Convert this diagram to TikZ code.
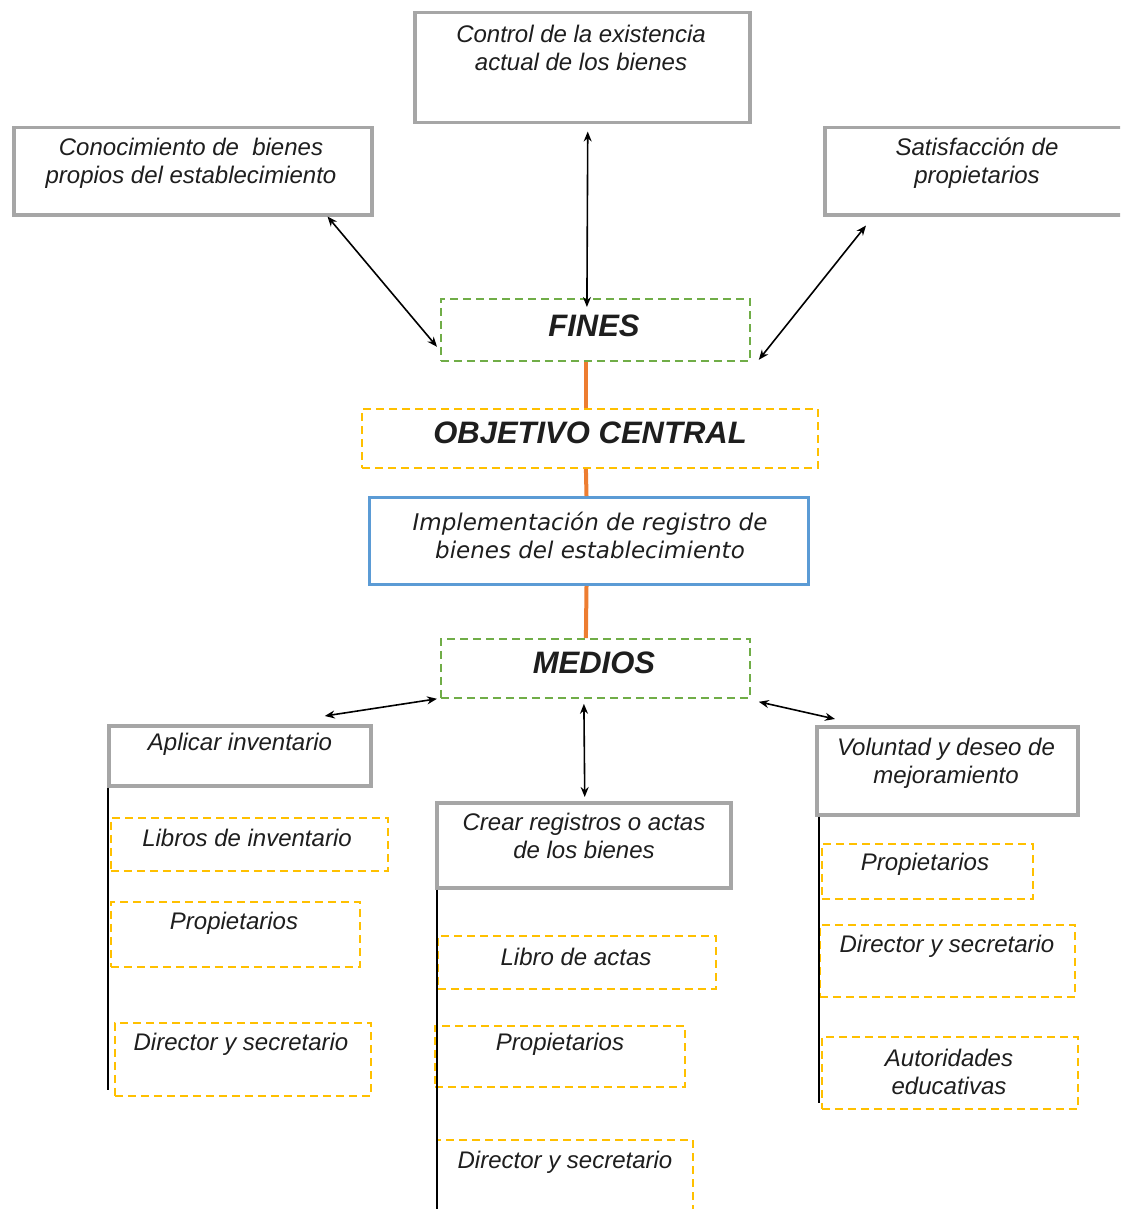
\documentclass[tikz,border=0pt]{standalone}
\usepackage{fontspec}
\setmainfont{Liberation Sans}
\newfontfamily\impfont{DejaVu Sans}
\usetikzlibrary{arrows.meta}
\definecolor{boxgray}{HTML}{A6A6A6}
\definecolor{dgreen}{HTML}{70AD47}
\definecolor{dyellow}{HTML}{FFC000}
\definecolor{dblue}{HTML}{5B9BD5}
\definecolor{dorange}{HTML}{ED7D31}
\definecolor{txt}{HTML}{1E1E1E}
\begin{document}
\begin{tikzpicture}[x=1pt,y=-1pt,
  graybox/.style={draw=boxgray,line width=3.5pt,anchor=north west,inner sep=0pt},
  gbox/.style={draw=dgreen,line width=1.8pt,dash pattern=on 8pt off 5pt,anchor=north west,inner sep=0pt,
    font=\fontsize{31}{36}\selectfont\bfseries\itshape,text=txt},
  ybox/.style={draw=dyellow,line width=1.8pt,dash pattern=on 8pt off 5pt,anchor=north west,inner sep=0pt},
  bbox/.style={draw=dblue,line width=3pt,anchor=north west,inner sep=0pt},
  lbl/.style={align=center,inner sep=0pt,font=\fontsize{24}{28}\selectfont\itshape,text=txt},
  ttl/.style={inner sep=0pt,font=\fontsize{31}{36}\selectfont\bfseries\itshape,text=txt},
  conn/.style={line width=1.6pt,black,{Stealth[length=10pt,width=8pt]}-{Stealth[length=10pt,width=8pt]}},
  oline/.style={draw=dorange,line width=4pt},
  vline/.style={draw=black,line width=1.8pt}]
\clip (0,0) rectangle (1120,1209);
\fill[white] (0,0) rectangle (1120,1209);

% top boxes
\node[graybox,minimum width=335,minimum height=110] (ctl) at (413,11) {};
\node[lbl] (ctlT) at (581,48) {Control de la existencia\\actual de los bienes};
\node[graybox,minimum width=358,minimum height=87] (kno) at (12,126) {};
\node[lbl] (knoT) at (191,163) {Conocimiento de\ \ bienes\\propios del establecimiento};
\node[graybox,minimum width=310,minimum height=87] (sat) at (823,126) {};
\node[lbl] (satT) at (977,163) {Satisfacción de\\propietarios};

% central column
\node[gbox,minimum width=309,minimum height=62] (fin) at (440,298) {};
\node[ttl] (finT) at (594,326) {FINES};
\node[ybox,minimum width=456,minimum height=59] (obj) at (361,408) {};
\node[ttl] (objT) at (590,433) {OBJETIVO CENTRAL};
\node[bbox,minimum width=439,minimum height=87] (imp) at (368,496) {};
\node[lbl,font=\impfont\fontsize{23}{28}\selectfont\itshape] (impT) at (590,535) {Implementación de registro de\\bienes del establecimiento};
\node[gbox,minimum width=309,minimum height=59] (med) at (440,638) {};
\node[ttl] (medT) at (594,663) {MEDIOS};

\draw[oline] ([xshift=-9.5pt]fin.south) -- ([xshift=-4pt]obj.north);
\draw[oline] ([xshift=-4pt]obj.south) -- ([xshift=-2.5pt]imp.north);
\draw[oline] ([xshift=-2.5pt]imp.south) -- ([xshift=-9.5pt]med.north);

% arrows to fines
\draw[conn] ([xshift=-46pt]kno.south east) -- ([xshift=-3pt,yshift=15pt]fin.south west);
\draw[conn] ([xshift=5.5pt,yshift=-7pt]ctl.south) -- ([xshift=-8.5pt,yshift=-9pt]fin.north);
\draw[conn] ([xshift=43pt,yshift=-9pt]sat.south west) -- ([xshift=8pt,yshift=2pt]fin.south east);

% medios children
\node[graybox,minimum width=262,minimum height=60] (apl) at (107,724) {};
\node[lbl] (aplT) at (240,744) {Aplicar inventario};
\node[graybox,minimum width=294,minimum height=85] (cre) at (435,801) {};
\node[lbl] (creT) at (584,836) {Crear registros o actas\\de los bienes};
\node[graybox,minimum width=261,minimum height=88] (vol) at (815,725) {};
\node[lbl] (volT) at (946,763) {Voluntad y deseo de\\mejoramiento};

\draw[conn] ([xshift=-3pt]med.south west) -- ([xshift=85pt,yshift=8pt]apl.north);
\draw[conn] ([xshift=-11.5pt,yshift=-5pt]med.south) -- ([xshift=1pt,yshift=4pt]cre.north);
\draw[conn] ([xshift=8pt,yshift=-3pt]med.south east) -- ([xshift=20pt,yshift=6pt]vol.north west);

% left column
\node[ybox,minimum width=277,minimum height=53] (lib1) at (110,817) {};
\node[lbl] (lib1T) at (247,838) {Libros de inventario};
\node[ybox,minimum width=249,minimum height=65] (pro1) at (110,901) {};
\node[lbl] (pro1T) at (234,923) {Propietarios};
\node[ybox,minimum width=256,minimum height=73] (dir1) at (114,1022) {};
\node[lbl] (dir1T) at (241,1044) {Director y secretario};
\coordinate (aplEnd) at (108,1090);
\draw[vline] ([xshift=1pt]apl.south west) -- (aplEnd);

% middle column
\node[ybox,minimum width=278,minimum height=53] (lib2) at (437,935) {};
\node[lbl] (lib2T) at (576,957) {Libro de actas};
\node[ybox,minimum width=250,minimum height=61] (pro2) at (434,1025) {};
\node[lbl] (pro2T) at (560,1044) {Propietarios};
\node[ybox,minimum width=256,minimum height=90] (dir2) at (436,1139) {};
\node[lbl] (dir2T) at (565,1162) {Director y secretario};
\coordinate (creEnd) at (437,1215);
\draw[vline] ([xshift=2pt]cre.south west) -- (creEnd);

% right column
\node[ybox,minimum width=211,minimum height=55] (pro3) at (821,843) {};
\node[lbl] (pro3T) at (925,864) {Propietarios};
\node[ybox,minimum width=255,minimum height=72] (dir3) at (819,924) {};
\node[lbl] (dir3T) at (947,946) {Director y secretario};
\node[ybox,minimum width=256,minimum height=72] (aut3) at (821,1036) {};
\node[lbl] (aut3T) at (949,1072) {Autoridades\\educativas};
\coordinate (volEnd) at (819,1103);
\draw[vline] ([xshift=4pt]vol.south west) -- (volEnd);
\end{tikzpicture}
\end{document}
